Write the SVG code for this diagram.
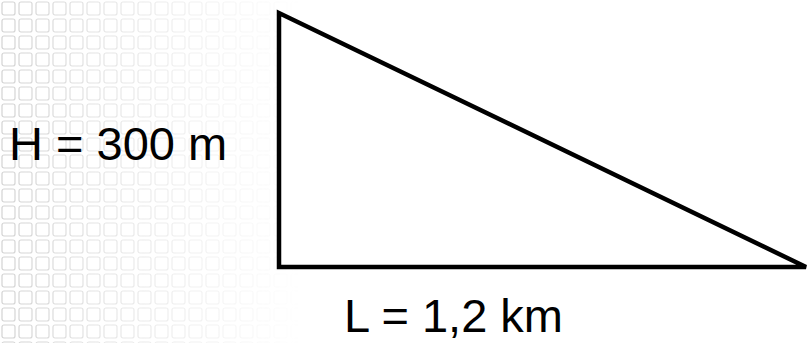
<svg xmlns="http://www.w3.org/2000/svg" width="808" height="343" viewBox="0 0 808 343">
  <style>
    .lbl { font-family: "Liberation Sans", Arial, sans-serif; font-size: 47px; fill: #000; }
    .tri { fill: #fff; stroke: #000; stroke-width: 4.5; stroke-linejoin: miter; }
  </style>
  <defs>
    <pattern id="grid" x="0" y="0" width="17" height="17" patternUnits="userSpaceOnUse">
      <rect x="2" y="2" width="13" height="13" rx="2" fill="none" stroke="#9a9a9a" stroke-width="1.2"/>
    </pattern>
    <linearGradient id="fade" x1="0" y1="0" x2="1" y2="0">
      <stop offset="0" stop-color="#fff" stop-opacity="0.45"/>
      <stop offset="0.35" stop-color="#fff" stop-opacity="0.25"/>
      <stop offset="1" stop-color="#fff" stop-opacity="0"/>
    </linearGradient>
    <mask id="fadeMask">
      <rect x="0" y="0" width="300" height="343" fill="url(#fade)"/>
    </mask>
  </defs>
  <rect width="808" height="343" fill="#fff"/>
  <rect x="0" y="0" width="300" height="343" fill="url(#grid)" mask="url(#fadeMask)"/>
  <g id="triangle">
    <path class="tri" d="M279,13 L279,267 L806,267 Z"/>
  </g>
  <g id="label-h">
    <text class="lbl" x="9" y="160">H = 300 m</text>
  </g>
  <g id="label-l">
    <text class="lbl" x="344" y="332">L = 1,2 km</text>
  </g>
  <g id="connectors"></g>
</svg>
